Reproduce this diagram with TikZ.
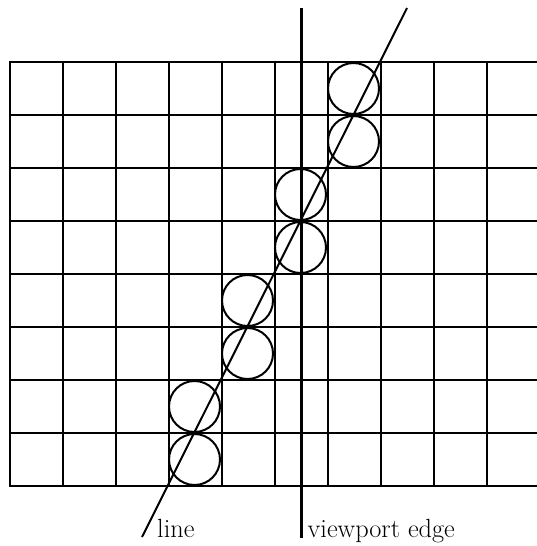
\documentclass[tikz,border=0pt]{standalone}
\begin{document}
\begin{tikzpicture}[x=1pt,y=-1pt,
  gridline/.style={line width=2.1pt,line cap=rect},
  edgeline/.style={line width=3pt},
  ray/.style={line width=2pt},
  pix/.style={circle,draw,line width=2pt,inner sep=0pt,minimum size=51pt},
  lab/.style={anchor=base west,inner sep=0pt,font=\fontsize{26.3}{30}\selectfont}]
\useasboundingbox (0,0) rectangle (537,546);
\foreach \k in {0,...,8} \draw[gridline] (10,{62+53*\k}) -- (537,{62+53*\k});
\foreach \k in {0,...,9} \draw[gridline] ({10+53*\k},62) -- ({10+53*\k},486);
% selected pixels
\node[pix] (p1) at (353.5,88.5) {};
\node[pix] (p2) at (353.5,141.5) {};
\node[pix] (p3) at (300.5,194.5) {};
\node[pix] (p4) at (300.5,247.5) {};
\node[pix] (p5) at (247.5,300.5) {};
\node[pix] (p6) at (247.5,353.5) {};
\node[pix] (p7) at (194.5,406.5) {};
\node[pix] (p8) at (194.5,459.5) {};
% viewport edge
\coordinate (vtop) at (301,8);
\coordinate (vbot) at (301,537.5);
\draw[edgeline] (vtop) -- (vbot);
% line
\coordinate (ltop) at (407,8);
\coordinate (lbot) at (142,537);
\draw[ray] (ltop) -- (lbot);
\node[lab] (linelab) at (157,537) {line};
\node[lab] (vplab) at (307.5,537) {viewport edge};
\end{tikzpicture}
\end{document}
